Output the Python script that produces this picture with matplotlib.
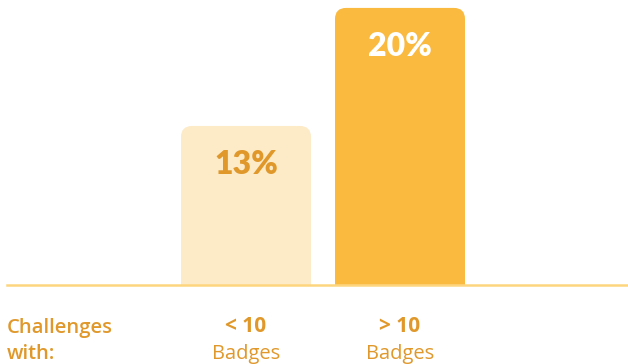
import matplotlib
matplotlib.use("Agg")
import matplotlib.pyplot as plt
from matplotlib.patches import FancyBboxPatch
from matplotlib.transforms import blended_transform_factory

# data
categories = ["< 10", "> 10"]
sublabels = ["Badges", "Badges"]
values = [13, 20]
value_labels = ["13%", "20%"]
row_title = "Challenges\nwith:"

bar_colors = ["#FDEAC6", "#FABA40"]
value_colors = ["#E0982A", "#FFFFFF"]
text_color = "#E0982A"
line_color = "#FDD57F"

W, H = 628, 364
fig = plt.figure(figsize=(W / 100, H / 100), dpi=100)
fig.patch.set_facecolor("white")

# axes spans full width, from the baseline (y=285px) to the top
base_px = 285
ax = fig.add_axes([0, 1 - base_px / H, 1, base_px / H])
ax.set_facecolor("none")

unit_px = 154.0      # distance between bar centers in px
first_px = 246.0     # center of first bar
ax.set_xlim(-first_px / unit_px, (W - first_px) / unit_px)
y0, y1 = 3.57, 20.47
ax.set_ylim(y0, y1)
ax.axis("off")

bar_w = 130 / unit_px
px_per_y = base_px / (y1 - y0)
r = 11 / unit_px
aspect = (11 / px_per_y) / r

for i, v in enumerate(values):
    patch = FancyBboxPatch((i - bar_w / 2, y0 - 3), bar_w, v - (y0 - 3),
                           boxstyle=f"round,pad=0,rounding_size={r}",
                           mutation_aspect=aspect,
                           facecolor=bar_colors[i], edgecolor="none")
    ax.add_patch(patch)
    # value label, sits ~38px below the bar top
    ax.text(i, v - 38.5 / px_per_y, value_labels[i], ha="center", va="center",
            fontsize=23, fontweight="heavy", family="Lato", color=value_colors[i])

ax.axhline(y0, xmin=7 / W, xmax=1, color=line_color, lw=1.8, clip_on=False)

tr = blended_transform_factory(ax.transData, fig.transFigure)
for i, (c, s) in enumerate(zip(categories, sublabels)):
    ax.text(i, 1 - 326 / H, c, transform=tr, ha="center", va="center",
            fontsize=15, fontweight="bold", family="Open Sans", color=text_color)
    ax.text(i, 1 - 354 / H, s, transform=tr, ha="center", va="center",
            fontsize=14.5, family="Open Sans", color=text_color)

fig.text(7 / W, 1 - 341 / H, row_title, ha="left", va="center",
         fontsize=14.5, fontweight="semibold", family="Open Sans", color=text_color,
         linespacing=1.45)

fig.savefig("out.png", dpi=100)
